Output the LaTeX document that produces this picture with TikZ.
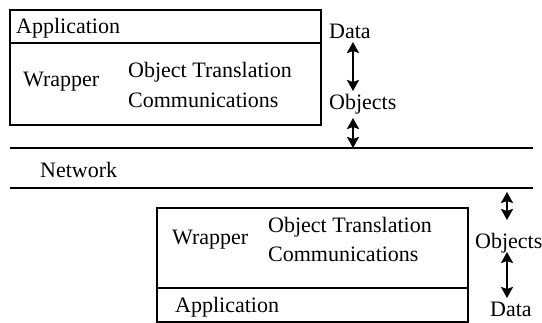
\documentclass[tikz,border=0pt]{standalone}
\usepackage{fontspec}
\setmainfont{Liberation Serif}
\usetikzlibrary{arrows.meta}
\begin{document}
\begin{tikzpicture}[x=1pt,y=-1pt,
  lbl/.style={inner sep=0pt,font=\fontsize{22}{25}\selectfont},
  box/.style={draw,line width=1.8pt},
  netline/.style={line width=1.8pt},
  dbl/.style={line width=2.8pt,{Stealth[length=11pt,width=12pt,inset=2pt]}-{Stealth[length=11pt,width=12pt,inset=2pt]}}]
\useasboundingbox (0,0) rectangle (542,323);
% top box
\draw[box] (10,10) rectangle (321,125);
\draw[box] (10,43) -- (321,43);
\node[lbl,anchor=west] (app1) at (16,28) {Application};
\node[lbl,anchor=west] (wr1) at (23,82) {Wrapper};
\node[lbl,anchor=west] (ot1) at (128,72) {Object Translation};
\node[lbl,anchor=west] (cm1) at (128,100) {Communications};
% network
\coordinate (n1a) at (10,148);
\coordinate (n1b) at (533,148);
\coordinate (n2a) at (10,188);
\coordinate (n2b) at (533,188);
\draw[netline] (n1a) -- (n1b);
\draw[netline] (n2a) -- (n2b);
\node[lbl,anchor=west] (net) at (40,170) {Network};
% top right labels
\node[lbl,anchor=west] (data1) at (329,31) {Data};
\node[lbl,anchor=west] (obj1) at (329,104) {Objects};
\draw[dbl] (353,42) -- (353,91);
\coordinate (t1) at (353,148);
\draw[dbl] (353,118) -- (t1);
% bottom box
\draw[box] (157,208) -- (468,208) -- (468,322) -- (157,322) -- cycle;
\draw[box] (157,288) -- (468,288);
\node[lbl,anchor=west] (wr2) at (172,240) {Wrapper};
\node[lbl,anchor=west] (ot2) at (268,227) {Object Translation};
\node[lbl,anchor=west] (cm2) at (268,254) {Communications};
\node[lbl,anchor=west] (app2) at (175,307) {Application};
% bottom right labels
\node[lbl,anchor=west] (obj2) at (475,243) {Objects};
\node[lbl,anchor=west] (data2) at (490,309) {Data};
\draw[dbl] (507,192) -- (507,220);
\draw[dbl] (507,252) -- (507,298);
\end{tikzpicture}
\end{document}
